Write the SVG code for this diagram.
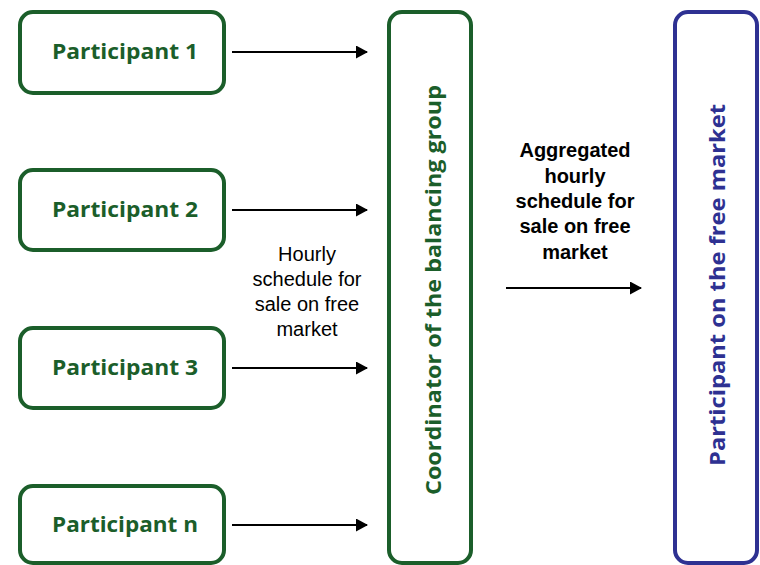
<svg xmlns="http://www.w3.org/2000/svg" width="760" height="565" viewBox="0 0 760 565">
<style>
.g{fill:#fff;stroke:#1b5e2a;stroke-width:4}
.b{fill:#fff;stroke:#2e3192;stroke-width:4}
.pt{font-family:"Open Sans","Liberation Sans",sans-serif;font-weight:700;font-size:21px;fill:#1b5e2a;text-anchor:middle}
.vt{font-family:"Open Sans","Liberation Sans",sans-serif;font-weight:700;font-size:22px;text-anchor:middle}
.lab{font-family:"Liberation Sans",Arial,sans-serif;font-size:20px;fill:#000;text-anchor:middle}
.labb{font-family:"Liberation Sans",Arial,sans-serif;font-size:20px;font-weight:700;fill:#000;text-anchor:middle}
.c{stroke:#000;stroke-width:2.2;fill:none;marker-end:url(#ah)}
</style>
<defs>
<marker id="ah" viewBox="0 0 12 13" refX="11" refY="6.5" markerWidth="12" markerHeight="13" orient="auto" markerUnits="userSpaceOnUse">
<path d="M0,0 L12,6.5 L0,13 z" fill="#000"/>
</marker>
</defs>
<g id="p1"><rect class="g" x="20" y="12" width="204" height="81" rx="13"/><text class="pt" x="125" y="59" textLength="146" lengthAdjust="spacingAndGlyphs">Participant 1</text></g>
<g id="p2"><rect class="g" x="20" y="170" width="204" height="80" rx="13"/><text class="pt" x="125" y="217" textLength="146" lengthAdjust="spacingAndGlyphs">Participant 2</text></g>
<g id="p3"><rect class="g" x="20" y="328" width="204" height="80" rx="13"/><text class="pt" x="125" y="375" textLength="146" lengthAdjust="spacingAndGlyphs">Participant 3</text></g>
<g id="pn"><rect class="g" x="20" y="486" width="204" height="77" rx="13"/><text class="pt" x="125" y="532" textLength="146" lengthAdjust="spacingAndGlyphs">Participant n</text></g>
<g id="coord"><rect class="g" x="389" y="12" width="82" height="551" rx="13"/><text class="vt" fill="#1b5e2a" transform="translate(441,290) rotate(-90)" textLength="410" lengthAdjust="spacingAndGlyphs">Coordinator of the balancing group</text></g>
<g id="market"><rect class="b" x="675" y="12" width="82" height="551" rx="13"/><text class="vt" fill="#2e3192" transform="translate(725,285) rotate(-90)" textLength="362" lengthAdjust="spacingAndGlyphs">Participant on the free market</text></g>
<g id="connectors">
<line class="c" x1="232" y1="52" x2="367" y2="52"/>
<line class="c" x1="232" y1="210" x2="367" y2="210"/>
<line class="c" x1="232" y1="368" x2="367" y2="368"/>
<line class="c" x1="232" y1="525" x2="367" y2="525"/>
<line class="c" x1="506" y1="288" x2="641" y2="288"/>
</g>
<g id="labels">
<text class="lab" x="307" y="261">Hourly</text>
<text class="lab" x="307" y="286">schedule for</text>
<text class="lab" x="307" y="311">sale on free</text>
<text class="lab" x="307" y="336">market</text>
<text class="labb" x="575" y="157">Aggregated</text>
<text class="labb" x="575" y="183">hourly</text>
<text class="labb" x="575" y="208">schedule for</text>
<text class="labb" x="575" y="233">sale on free</text>
<text class="labb" x="575" y="259">market</text>
</g>
</svg>
